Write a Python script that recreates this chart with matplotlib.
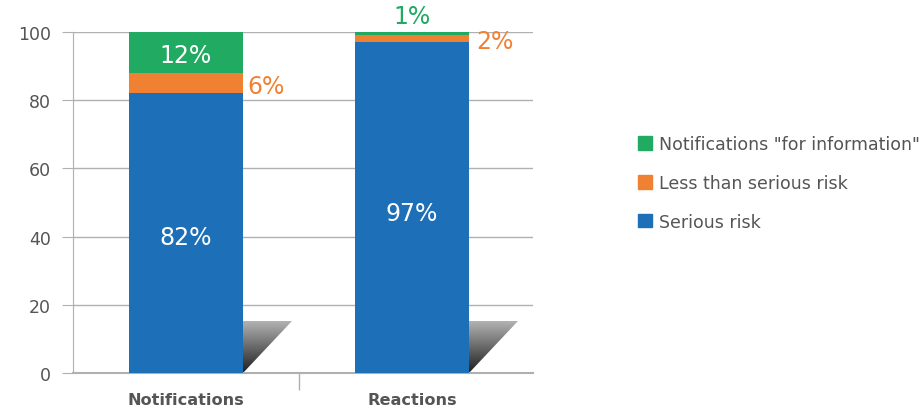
import numpy as np
import matplotlib
matplotlib.use("Agg")
import matplotlib.pyplot as plt
from matplotlib.patches import Polygon, Patch

categories = ["Notifications", "Reactions"]
serious = [82, 97]
less_serious = [6, 2]
for_info = [12, 1]
series_names = ['Notifications "for information"', "Less than serious risk", "Serious risk"]
yticks = [0, 20, 40, 60, 80, 100]

c_blue = "#1d6fb8"
c_orange = "#f08132"
c_green = "#21aa62"
grey_txt = "#555555"
grid_c = "#b0b0b0"

plt.rcParams["font.family"] = ["DejaVu Sans"]

fig = plt.figure(figsize=(9.21, 4.10), dpi=100)
ax = fig.add_axes([73 / 921, 36 / 410, 460 / 921, 341 / 410])

x = np.arange(len(categories))
w = 0.504
ax.bar(x, serious, w, color=c_blue, zorder=3)
ax.bar(x, less_serious, w, bottom=serious, color=c_orange, zorder=3)
bottom2 = [a + b for a, b in zip(serious, less_serious)]
ax.bar(x, for_info, w, bottom=bottom2, color=c_green, zorder=3)

# shadow triangles
grad = np.linspace(0.70, 0.12, 256).reshape(-1, 1)
for xi in x:
    x0 = xi + w / 2
    x1 = x0 + 0.217
    h = 15.2
    poly = Polygon([[x0, 0], [x0, h], [x1, h]], closed=True, facecolor="none", edgecolor="none")
    ax.add_patch(poly)
    im = ax.imshow(grad, cmap="gray", vmin=0, vmax=1, extent=[x0, x1, 0, h],
                   aspect="auto", origin="upper", zorder=2, interpolation="bilinear")
    im.set_clip_path(poly)

# labels
fs = 17
ax.text(x[0], serious[0] / 2 - 1, f"{serious[0]}%", color="white", ha="center", va="center", fontsize=fs, zorder=5)
ax.text(x[0], bottom2[0] + for_info[0] / 2 - 0.8, f"{for_info[0]}%", color="white", ha="center", va="center", fontsize=fs, zorder=5)
ax.text(x[0] + w / 2 + 0.02, serious[0] + less_serious[0] / 2 - 0.8, f"{less_serious[0]}%", color=c_orange,
        ha="left", va="center", fontsize=fs, zorder=5)
ax.text(x[1], 47, f"{serious[1]}%", color="white", ha="center", va="center", fontsize=fs, zorder=5)
ax.text(x[1], 104.8, f"{for_info[1]}%", color=c_green, ha="center", va="center", fontsize=fs, zorder=5, clip_on=False)
ax.text(x[1] + w / 2 + 0.03, 97.3, f"{less_serious[1]}%", color=c_orange, ha="left", va="center",
        fontsize=fs, zorder=5, clip_on=False)

ax.set_xlim(-0.5, 1.535)
ax.set_ylim(0, 100)
ax.set_yticks(yticks)
ax.yaxis.grid(True, color=grid_c, linewidth=1, zorder=0)
ax.set_axisbelow(True)
for s in ["top", "right"]:
    ax.spines[s].set_visible(False)
ax.spines["left"].set_color(grid_c)
ax.spines["bottom"].set_color(grid_c)
ax.spines["bottom"].set_linewidth(1.5)
ax.tick_params(axis="y", length=8, color=grid_c, labelsize=12.5, labelcolor=grey_txt, pad=8)
ax.set_xticks(x)
ax.set_xticklabels(categories, fontsize=11.6, color=grey_txt, fontweight="bold")
ax.tick_params(axis="x", length=0, pad=14)
ax.set_xticks([0.5], minor=True)
ax.tick_params(axis="x", which="minor", length=12, color=grid_c, width=1)

handles = [Patch(color=c_green), Patch(color=c_orange), Patch(color=c_blue)]
leg = fig.legend(handles, series_names, loc="center left", bbox_to_anchor=(622 / 921, 226 / 410),
                 frameon=False, fontsize=12.5, labelcolor=grey_txt, handlelength=0.8, handleheight=0.8,
                 handletextpad=0.45, labelspacing=1.2)

fig.savefig("out.png", dpi=100)
